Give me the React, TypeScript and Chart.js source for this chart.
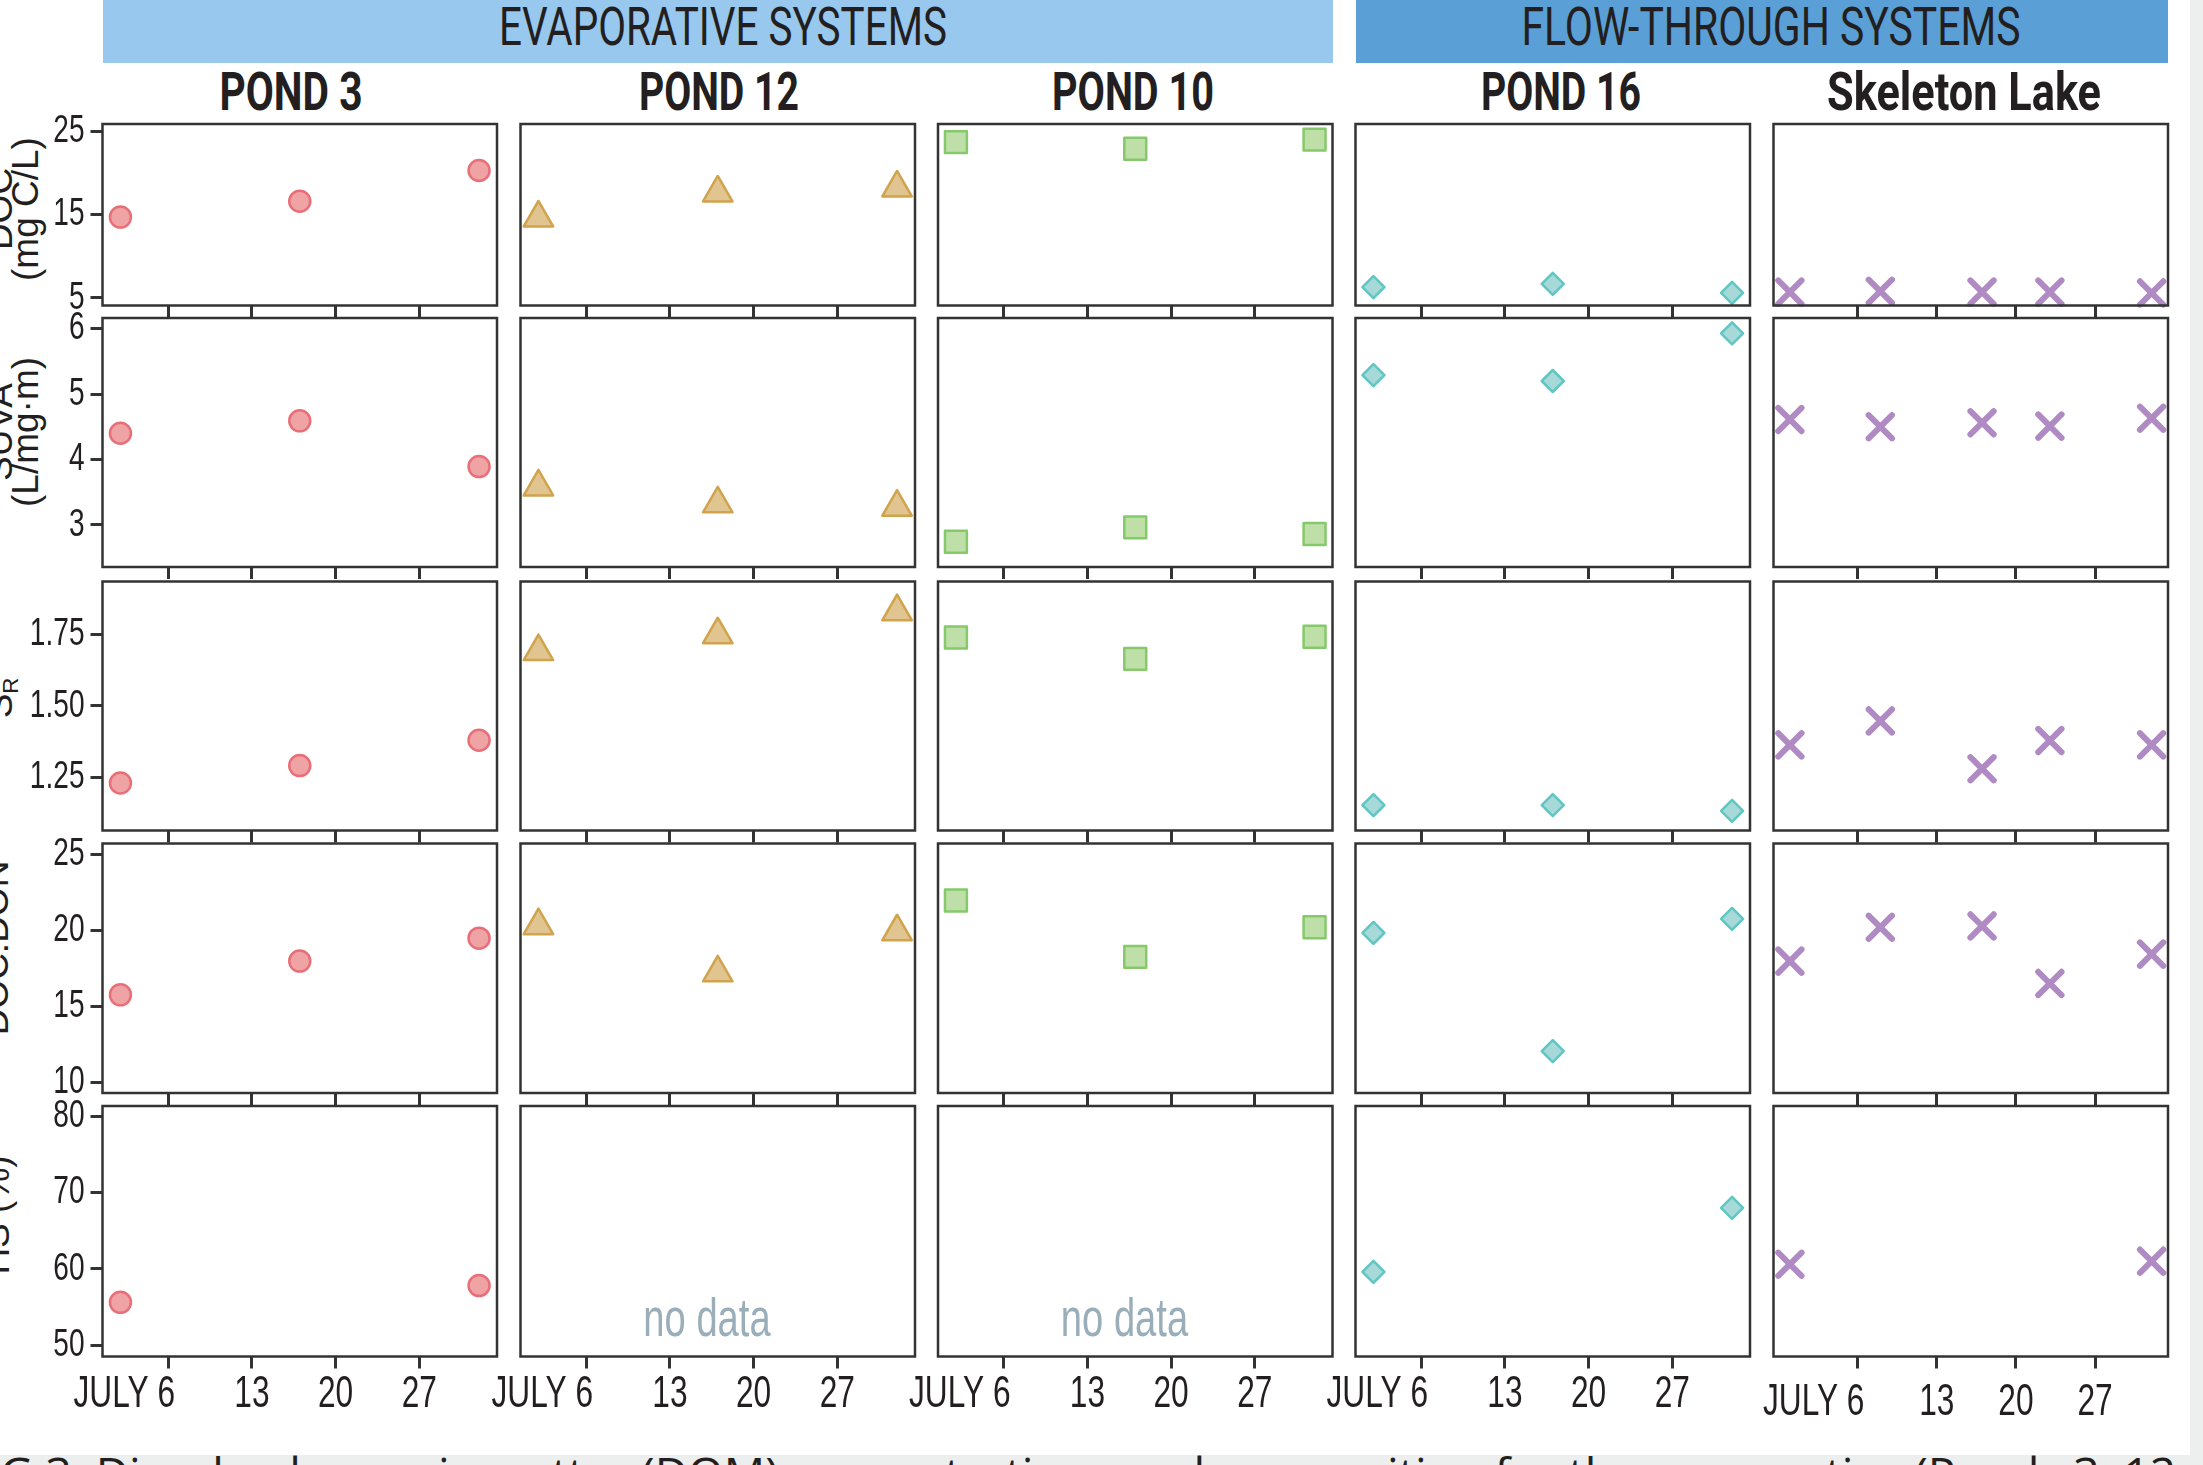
import React, { useEffect, useLayoutEffect, useRef } from 'react';
import { Chart, registerables } from 'chart.js';

Chart.register(...registerables);

// ---------------- data ----------------
const GROUP_LABELS = ['EVAPORATIVE SYSTEMS', 'FLOW-THROUGH SYSTEMS'];
const SITE_NAMES = ['POND 3', 'POND 12', 'POND 10', 'POND 16', 'Skeleton Lake'];

// sampling dates, as day of July (June 30 = 0, Aug 1 = 32)
const POND_DAYS = [2, 17, 32];
const SKELETON_DAYS = [0, 8, 17, 23, 32];

const DATE_TICKS = [6, 13, 20, 27];
const DATE_TICK_LABELS = ['JULY 6', '13', '20', '27'];

const DOC_TICKS = [5, 15, 25];
const SUVA_TICKS = [3, 4, 5, 6];
const SR_TICKS = [1.25, 1.5, 1.75];
const DOCDON_TICKS = [10, 15, 20, 25];
const HS_TICKS = [50, 60, 70, 80];

const POND3_DOC = [14.7, 16.6, 20.3];
const POND3_SUVA = [4.4, 4.59, 3.89];
const POND3_SR = [1.229, 1.29, 1.379];
const POND3_DOCDON = [15.75, 17.97, 19.48];
const POND3_HS = [55.6, null, 57.8];

const POND12_DOC = [14.6, 17.6, 18.2];
const POND12_SUVA = [3.58, 3.32, 3.27];
const POND12_SR = [1.691, 1.75, 1.831];
const POND12_DOCDON = [20.3, 17.2, 19.9];
const POND12_HS = [null, null, null];

const POND10_DOC = [23.7, 22.9, 24.0];
const POND10_SUVA = [2.74, 2.96, 2.86];
const POND10_SR = [1.74, 1.665, 1.743];
const POND10_DOCDON = [21.95, 18.25, 20.19];
const POND10_HS = [null, null, null];

const POND16_DOC = [6.3, 6.7, 5.6];
const POND16_SUVA = [5.29, 5.2, 5.93];
const POND16_SR = [1.151, 1.151, 1.131];
const POND16_DOCDON = [19.82, 12.06, 20.74];
const POND16_HS = [59.6, null, 68.0];

const SKELETON_DOC = [5.7, 5.8, 5.7, 5.7, 5.6];
const SKELETON_SUVA = [4.61, 4.5, 4.56, 4.51, 4.63];
const SKELETON_SR = [1.363, 1.447, 1.279, 1.378, 1.363];
const SKELETON_DOCDON = [17.97, 20.19, 20.28, 16.5, 18.43];
const SKELETON_HS = [60.6, null, null, null, 61.0];

const NO_DATA_TEXT = 'no data';
const CAPTION_HIDDEN = 'FI';
const CAPTION_TEXT =
  'G 3. Dissolved organic matter (DOM) concentrations and composition for the evaporative (Ponds 3, 12, and 10) and flow-through systems';

// ---------------- assembled tables ----------------
const SITE_VALUES: (number | null)[][][] = [
  [POND3_DOC, POND3_SUVA, POND3_SR, POND3_DOCDON, POND3_HS],
  [POND12_DOC, POND12_SUVA, POND12_SR, POND12_DOCDON, POND12_HS],
  [POND10_DOC, POND10_SUVA, POND10_SR, POND10_DOCDON, POND10_HS],
  [POND16_DOC, POND16_SUVA, POND16_SR, POND16_DOCDON, POND16_HS],
  [SKELETON_DOC, SKELETON_SUVA, SKELETON_SR, SKELETON_DOCDON, SKELETON_HS],
];
const SITE_DAYS = [POND_DAYS, POND_DAYS, POND_DAYS, POND_DAYS, SKELETON_DAYS];
const ROW_TICKS = [DOC_TICKS, SUVA_TICKS, SR_TICKS, DOCDON_TICKS, HS_TICKS];

// ---------------- styles / layout ----------------
const INK = '#231F20';
const FRAME = '#333333';
const SITE_STYLES = [
  { pointStyle: 'circle', radius: 10.5, bg: '#EFA3A5', border: '#E86F78', bw: 2.5 },
  { pointStyle: 'triangle', radius: 17, bg: '#E0C590', border: '#D0A34C', bw: 2.5 },
  { pointStyle: 'rect', radius: 15.5, bg: '#BEE0A8', border: '#85C96A', bw: 2.5 },
  { pointStyle: 'rectRot', radius: 11, bg: '#A6D9D8', border: '#5FC7C3', bw: 2.5 },
  { pointStyle: 'crossRot', radius: 16.5, bg: '#B08AC2', border: '#B08AC2', bw: 6 },
];

const PANEL_LEFT = [102.5, 520.5, 938, 1355.5, 1773.5];
const PANEL_W = 394.5;
const PANEL_TOP = [124, 318, 581.5, 843.5, 1106];
const PANEL_H = [181.5, 249, 249, 249.5, 250.5];
const Y_RANGES = [
  [4.09, 25.88],
  [2.354, 6.164],
  [1.062, 1.937],
  [9.3, 25.7],
  [48.5, 81.35],
];
const X_RANGE_POND = [0.5, 33.5];
const X_RANGE_SKELETON = [-1.45, 33.45];

const CANVAS_FAMILY = '"Liberation Sans", Arial, sans-serif';
const TEXT_SQUEEZE = 0.72; // horizontal condensing of canvas text
const HEAD_FAMILY = 'Roboto, "Liberation Sans", sans-serif';
const SANS = '"Liberation Sans", Arial, sans-serif';

function panelGeom(r: number, c: number) {
  const isFirst = c === 0;
  const isBottom = r === 4;
  const left = isFirst ? 0 : Math.floor(PANEL_LEFT[c] - 60);
  const padLeft = PANEL_LEFT[c] - left;
  const top = Math.floor(PANEL_TOP[r] - 30);
  const padTop = PANEL_TOP[r] - top;
  const xAxisH = isBottom ? 90 : 14;
  const extraBottom = isBottom ? 0 : 14;
  const width = Math.ceil(padLeft + PANEL_W + 30);
  const height = Math.ceil(padTop + PANEL_H[r] + xAxisH + extraBottom);
  const padRight = width - padLeft - PANEL_W;
  const padBottom = height - padTop - PANEL_H[r] - xAxisH;
  return { left, top, width, height, padLeft, padTop, padRight, padBottom, xAxisH };
}

const PANELS: { r: number; c: number }[] = [];
for (let r = 0; r < 5; r++) for (let c = 0; c < 5; c++) PANELS.push({ r, c });

const framePlugin = {
  id: 'panelFrame',
  afterDatasetsDraw(chart: any) {
    const { ctx, chartArea: a } = chart;
    ctx.save();
    ctx.strokeStyle = FRAME;
    ctx.lineWidth = 2.5;
    ctx.strokeRect(a.left, a.top, a.right - a.left, a.bottom - a.top);
    ctx.restore();
  },
};

// round line caps for the marker strokes (the x-shaped markers)
const roundCapPlugin = {
  id: 'roundCaps',
  beforeDatasetsDraw(chart: any) {
    chart.ctx.save();
    chart.ctx.lineCap = 'round';
    chart.ctx.lineJoin = 'round';
  },
  afterDatasetsDraw(chart: any) {
    chart.ctx.restore();
  },
};

// draws canvas text condensed horizontally around its anchor point
function squeezedFill(ctx: any, orig: any, text: string, x: number, y: number) {
  ctx.save();
  ctx.translate(x, y);
  ctx.scale(TEXT_SQUEEZE, 1);
  orig.call(ctx, text, 0, 0);
  ctx.restore();
}

const condensePlugin = {
  id: 'condenseText',
  beforeDraw(chart: any) {
    const ctx = chart.ctx as any;
    if (ctx.__origFillText) return;
    const orig = ctx.fillText;
    ctx.__origFillText = orig;
    ctx.fillText = function (text: string, x: number, y: number) {
      squeezedFill(this, orig, text, x, y);
    };
  },
  afterDraw(chart: any) {
    const ctx = chart.ctx as any;
    if (ctx.__origFillText) {
      ctx.fillText = ctx.__origFillText;
      delete ctx.__origFillText;
    }
  },
};

function FitText(props: {
  text: string;
  x: number;
  top: number;
  size: number;
  width: number;
  weight?: number;
  family?: string;
  color?: string;
}) {
  const { text, x, top, size, width, weight = 400, family = HEAD_FAMILY, color = INK } = props;
  const ref = useRef<HTMLSpanElement>(null);
  useLayoutEffect(() => {
    const el = ref.current;
    if (!el) return;
    el.style.transform = 'none';
    const w = el.getBoundingClientRect().width;
    const s = w > 0 ? width / w : 1;
    el.style.transform = `translateX(-50%) scaleX(${s})`;
  });
  return (
    <span
      ref={ref}
      style={{
        position: 'absolute',
        left: x,
        top,
        fontSize: size,
        fontWeight: weight,
        fontFamily: family,
        color,
        lineHeight: 1,
        whiteSpace: 'nowrap',
        transformOrigin: '50% 0',
      }}
    >
      {text}
    </span>
  );
}

function RotText(props: { cx: number; cy: number; size?: number; children: React.ReactNode }) {
  const { cx, cy, size = 37, children } = props;
  return (
    <span
      style={{
        position: 'absolute',
        left: cx,
        top: cy,
        transform: 'translate(-50%, -50%) rotate(-90deg)',
        fontSize: size,
        fontFamily: SANS,
        lineHeight: 1,
        whiteSpace: 'nowrap',
        color: INK,
      }}
    >
      {children}
    </span>
  );
}

export default function App() {
  const canvasRefs = useRef<(HTMLCanvasElement | null)[]>([]);

  useEffect(() => {
    const family = CANVAS_FAMILY;
    const xFontSize = 44;
    const yFontSize = 39;
    const mctx = document.createElement('canvas').getContext('2d');
    let pad = '';
    if (mctx) {
      mctx.font = `${xFontSize}px ${family}`;
      const first = DATE_TICK_LABELS[0];
      const prefix = first.slice(0, first.lastIndexOf(' ') + 1);
      const w = mctx.measureText(prefix).width;
      const sp = mctx.measureText(' ').width || 1;
      pad = ' '.repeat(Math.max(0, Math.round(w / sp)));
    }
    const charts: Chart[] = [];
    PANELS.forEach(({ r, c }, i) => {
      const canvas = canvasRefs.current[i];
      if (!canvas) return;
      const g = panelGeom(r, c);
      const isFirst = c === 0;
      const isBottom = r === 4;
      const isSk = c === 4;
      const st = SITE_STYLES[c];
      const vals = SITE_VALUES[c][r];
      const days = SITE_DAYS[c];
      const pts = days
        .map((d, k) => (vals[k] == null ? null : { x: d, y: vals[k] as number }))
        .filter((p) => p !== null) as { x: number; y: number }[];
      const xr = isSk ? X_RANGE_SKELETON : X_RANGE_POND;
      const yr = Y_RANGES[r];
      const yTicks = ROW_TICKS[r];
      const plugins: any[] = [condensePlugin, roundCapPlugin, framePlugin];
      if (pts.length === 0) {
        plugins.push({
          id: 'noData',
          afterDatasetsDraw(chart: any) {
            const ctx = chart.ctx as any;
            const px = chart.scales.x.getPixelForValue(16.1);
            const py = chart.scales.y.getPixelForValue(yr[0] + (yr[1] - yr[0]) * 0.082);
            ctx.save();
            ctx.font = `53px ${family}`;
            ctx.fillStyle = '#9AAEB9';
            ctx.textAlign = 'center';
            ctx.textBaseline = 'alphabetic';
            ctx.fillText(NO_DATA_TEXT, px, py);
            ctx.restore();
          },
        });
      }
      const chart = new Chart(canvas, {
        type: 'scatter',
        data: {
          datasets: [
            {
              data: pts,
              pointStyle: st.pointStyle as any,
              pointRadius: st.radius,
              pointHoverRadius: st.radius,
              pointBackgroundColor: st.bg,
              pointBorderColor: st.border,
              pointBorderWidth: st.bw,
              backgroundColor: st.bg,
              borderColor: st.border,
              showLine: false,
              clip: false as any,
            },
          ],
        },
        options: {
          responsive: false,
          maintainAspectRatio: false,
          animation: false,
          devicePixelRatio: 1,
          events: [],
          layout: {
            autoPadding: false,
            padding: {
              left: isFirst ? 0 : g.padLeft,
              top: g.padTop,
              right: g.padRight,
              bottom: g.padBottom,
            },
          },
          plugins: { legend: { display: false }, tooltip: { enabled: false } },
          scales: {
            x: {
              type: 'linear',
              position: 'bottom',
              min: xr[0],
              max: xr[1],
              afterBuildTicks: (s: any) => {
                s.ticks = DATE_TICKS.map((v) => ({ value: v }));
              },
              afterFit: (s: any) => {
                s.height = g.xAxisH;
                s.paddingLeft = 0;
                s.paddingRight = 0;
                s.paddingTop = 0;
                s.paddingBottom = 0;
              },
              grid: {
                display: true,
                drawOnChartArea: false,
                drawTicks: true,
                tickLength: 12,
                tickWidth: 3,
                tickColor: FRAME,
                lineWidth: 3,
                color: FRAME,
              },
              border: { display: false },
              ticks: {
                display: isBottom,
                autoSkip: false,
                maxRotation: 0,
                minRotation: 0,
                padding: isSk ? 8 : 0,
                color: INK,
                font: { family, size: xFontSize },
                callback: (v: any) => {
                  const k = DATE_TICKS.indexOf(Number(v));
                  if (k < 0) return '';
                  return k === 0 ? DATE_TICK_LABELS[0] + pad : DATE_TICK_LABELS[k];
                },
              },
            },
            y: {
              type: 'linear',
              position: 'left',
              display: isFirst,
              min: yr[0],
              max: yr[1],
              afterBuildTicks: (s: any) => {
                s.ticks = yTicks.map((v) => ({ value: v }));
              },
              afterFit: (s: any) => {
                s.width = isFirst ? g.padLeft : 0;
                s.paddingTop = 0;
                s.paddingBottom = 0;
                s.paddingLeft = 0;
                s.paddingRight = 0;
              },
              grid: {
                display: true,
                drawOnChartArea: false,
                drawTicks: true,
                tickLength: 12,
                tickWidth: 3,
                tickColor: FRAME,
                lineWidth: 3,
                color: FRAME,
              },
              border: { display: false },
              ticks: {
                padding: 6,
                autoSkip: false,
                color: INK,
                font: { family, size: yFontSize },
                callback: (v: any) => (r === 2 ? Number(v).toFixed(2) : String(v)),
              },
            },
          },
        } as any,
        plugins,
      });
      charts.push(chart);
    });
    return () => charts.forEach((ch) => ch.destroy());
  }, []);

  const bandH = 62.7;

  return (
    <div
      style={{
        position: 'absolute',
        left: 0,
        top: 0,
        width: 2203,
        height: 1465,
        overflow: 'hidden',
        background: '#ffffff',
        fontFamily: SANS,
      }}
    >
      {/* page edges */}
      <div style={{ position: 'absolute', left: 2190, top: 0, width: 13, height: 1465, background: '#EDEFEE' }} />
      <div style={{ position: 'absolute', left: 0, top: 1455, width: 2203, height: 10, background: '#EDEFEE' }} />
      <div
        style={{
          position: 'absolute',
          left: 0,
          top: 1450,
          fontSize: 46,
          lineHeight: 1,
          fontFamily: '"Open Sans", sans-serif',
          color: INK,
          whiteSpace: 'nowrap',
        }}
      >
        <span style={{ position: 'absolute', right: '100%' }}>{CAPTION_HIDDEN}</span>
        {CAPTION_TEXT}
      </div>

      {/* group bands */}
      <div
        style={{
          position: 'absolute',
          left: PANEL_LEFT[0],
          top: 0,
          width: PANEL_LEFT[2] + PANEL_W - PANEL_LEFT[0],
          height: bandH,
          background: '#98C8EE',
        }}
      />
      <div
        style={{
          position: 'absolute',
          left: PANEL_LEFT[3],
          top: 0,
          width: PANEL_LEFT[4] + PANEL_W - PANEL_LEFT[3],
          height: bandH,
          background: '#5A9FD5',
        }}
      />
      <FitText text={GROUP_LABELS[0]} x={723} top={-0.3} size={54} width={448} />
      <FitText text={GROUP_LABELS[1]} x={1771} top={-0.3} size={54} width={499} />

      {/* site titles */}
      <FitText text={SITE_NAMES[0]} x={290.8} top={64.5} size={53.5} width={143} weight={700} />
      <FitText text={SITE_NAMES[1]} x={719} top={64.5} size={53.5} width={160} weight={700} />
      <FitText text={SITE_NAMES[2]} x={1133} top={64.5} size={53.5} width={162} weight={700} />
      <FitText text={SITE_NAMES[3]} x={1561} top={64.5} size={53.5} width={160} weight={700} />
      <FitText text={SITE_NAMES[4]} x={1964} top={64.5} size={53.5} width={274} weight={700} />

      {/* y-axis titles (partly cut by the left page edge) */}
      <RotText cx={-1.5} cy={209}>DOC</RotText>
      <RotText cx={25} cy={209}>(mg C/L)</RotText>
      <RotText cx={-1.5} cy={432}>SUVA</RotText>
      <RotText cx={25} cy={432}>(L/mg·m)</RotText>
      <RotText cx={-1.5} cy={698}>
        S<span style={{ fontSize: '0.6em', position: 'relative', top: '0.25em' }}>R</span>
      </RotText>
      <RotText cx={-5} cy={948}>DOC:DON</RotText>
      <RotText cx={-4} cy={1215}>HS (%)</RotText>

      {PANELS.map(({ r, c }, i) => {
        const g = panelGeom(r, c);
        return (
          <canvas
            key={i}
            ref={(el) => {
              canvasRefs.current[i] = el;
            }}
            width={g.width}
            height={g.height}
            style={{ position: 'absolute', left: g.left, top: g.top, width: g.width, height: g.height }}
          />
        );
      })}
    </div>
  );
}
